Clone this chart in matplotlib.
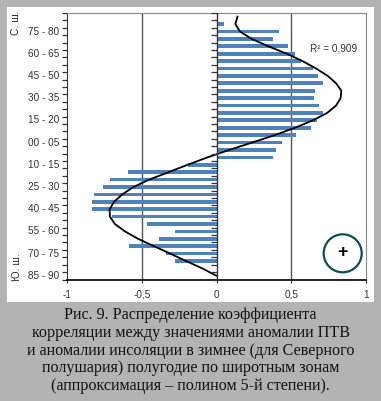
import numpy as np
import matplotlib
matplotlib.use('Agg')
import matplotlib.pyplot as plt
from matplotlib.patches import Rectangle, Ellipse

W, H = 381, 401

# one value per 5 degree zone, north to south
corr = [0, 0.05, 0.42, 0.375, 0.475, 0.525, 0.565, 0.645, 0.68, 0.715, 0.66, 0.655,
        0.685, 0.71, 0.675, 0.63, 0.535, 0.435, 0.395, 0.375,
        -0.19, -0.595, -0.71, -0.76, -0.817, -0.83, -0.835, -0.70, -0.467, -0.275,
        -0.387, -0.585, -0.34, -0.275, 0, 0]
trend = [0.14, 0.126, 0.157, 0.235, 0.347, 0.47, 0.576, 0.666, 0.744, 0.80, 0.835, 0.83,
         0.80, 0.74, 0.645, 0.525, 0.39, 0.238, 0.085, -0.06,
         -0.193, -0.32, -0.45, -0.555, -0.63, -0.685, -0.715, -0.713, -0.68, -0.612,
         -0.525, -0.418, -0.31, -0.204, -0.095, 0.0]
zone_labels = ['75 - 80', '60 - 65', '45 - 50', '30 - 35', '15 - 20', '00 - 05',
               '10 - 15', '25 - 30', '40 - 45', '55 - 60', '70 - 75', '85 - 90']
zone_index = [2, 5, 8, 11, 14, 17, 20, 23, 26, 29, 32, 35]
x_ticks = [-1, -0.5, 0, 0.5, 1]
x_labels = ['-1', '-0,5', '0', '0,5', '1']
caption = ['Рис. 9. Распределение коэффициента',
           'корреляции между значениями аномалии ПТВ',
           'и аномалии инсоляции в зимнее (для Северного',
           'полушария) полугодие по широтным зонам',
           '(аппроксимация – полином 5-й степени).']

plt.rcParams['font.family'] = ['Liberation Sans', 'DejaVu Sans']
fig = plt.figure(figsize=(W / 100, H / 100), dpi=100, facecolor='#b3b3b3')

def fx(px):
    return px / W

def fy(py):
    return 1 - py / H

fig.patches.append(Rectangle((fx(7), fy(302)), fx(367), 295 / H, transform=fig.transFigure,
                             facecolor='white', edgecolor='none', zorder=-5))

ax = fig.add_axes([fx(67), fy(279.5), fx(299), 266.5 / H], facecolor='none')
y = np.arange(36)
ax.barh(y, corr, height=0.5, color='#4f81bd', zorder=2)
ax.plot(trend, y, color='black', lw=1.3, zorder=3, solid_joinstyle='round')
ax.set_xlim(-1, 1)
ax.set_ylim(35.5, -0.5)

for v in [-0.5, 0.5]:
    ax.axvline(v, color='#555555', lw=1, zorder=1)
ax.axvline(0, color='#333333', lw=1, zorder=4)

# small ticks on the zero line, same spacing as on the left axis
ax.plot([-0.02] * 37, np.arange(37) - 0.5, ls='none', marker='_', ms=4.5, mew=0.9,
        color='#333333', zorder=4, clip_on=False)

ax.set_xticks(x_ticks)
ax.set_xticklabels(x_labels, fontsize=7.2, color='#333333')
ax.tick_params(axis='x', length=2.5, width=0.8, pad=5, color='#333333')
ax.set_yticks(np.arange(37) - 0.5)
ax.set_yticklabels([])
ax.tick_params(axis='y', length=3.5, width=0.9, color='#333333')

for i, lab in zip(zone_index, zone_labels):
    ax.text(-1.05, i, lab, ha='right', va='center', fontsize=7.2, color='#333333')

for side in ['top', 'right']:
    ax.spines[side].set_color('#888888')
    ax.spines[side].set_linewidth(0.8)
ax.spines['left'].set_color('#333333')
ax.spines['bottom'].set_color('black')
ax.spines['bottom'].set_linewidth(1.2)

fig.text(fx(334), fy(48.5), 'R² = 0,909', ha='center', va='center', fontsize=7.2, color='#333333')
fig.text(fx(16), fy(23), 'С. ш.', rotation=90, ha='center', va='center', fontsize=7.6, color='#333333')
fig.text(fx(17), fy(267), 'Ю. ш.', rotation=90, ha='center', va='center', fontsize=7.6, color='#333333')

fig.patches.append(Ellipse((fx(342.7), fy(253.3)), 38 / W, 38 / H, transform=fig.transFigure,
                           facecolor='white', edgecolor='#0b4f4f', lw=1.6, zorder=6))
fig.text(fx(342.7), fy(253), '+', ha='center', va='center', fontsize=13, fontweight='bold',
         color='black', zorder=7)

for py, line in zip([315, 333.3, 350.7, 368.3, 386], caption):
    fig.text(fx(190.5), fy(py), line, ha='center', va='center', fontsize=11.6,
             family=['Liberation Serif', 'DejaVu Serif'], color='#111111')

fig.savefig('out.png', dpi=100, facecolor=fig.get_facecolor())
